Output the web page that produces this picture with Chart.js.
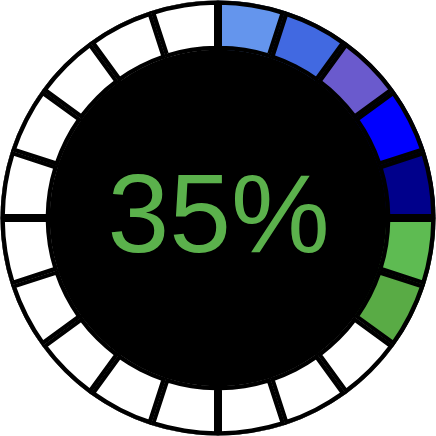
<!DOCTYPE html>
<html>
<head>
<meta charset="utf-8">
<script src="https://cdn.jsdelivr.net/npm/chart.js@4"></script>
<style>
html,body{margin:0;padding:0;background:#fff;}
#wrap{width:436px;height:436px;}
</style>
</head>
<body>
<div id="wrap"><canvas id="c" width="436" height="436"></canvas></div>
<script>
const percentLabel = "35%";
const segmentLabels = ["1","2","3","4","5","6","7","8","9","10","11","12","13","14","15","16","17","18","19","20"];
const segmentValues = [1,1,1,1,1,1,1,1,1,1,1,1,1,1,1,1,1,1,1,1];
const segmentColors = ["#6495ED","#4169E1","#6A5ACD","#0000FF","#00008B","#5EBB52","#59AB45",
  "#FFFFFF","#FFFFFF","#FFFFFF","#FFFFFF","#FFFFFF","#FFFFFF","#FFFFFF","#FFFFFF","#FFFFFF","#FFFFFF","#FFFFFF","#FFFFFF","#FFFFFF"];

const bgPlugin = {
  id: 'bg',
  beforeDatasetsDraw(chart) {
    const meta = chart.getDatasetMeta(0);
    const arc = meta.data[0];
    const ctx = chart.ctx;
    ctx.save();
    ctx.beginPath();
    ctx.arc(arc.x, arc.y, arc.outerRadius, 0, Math.PI * 2);
    ctx.fillStyle = '#000';
    ctx.fill();
    ctx.restore();
  },
  afterDraw(chart) {
    const meta = chart.getDatasetMeta(0);
    const arc = meta.data[0];
    const ctx = chart.ctx;
    ctx.save();
    ctx.fillStyle = '#5BB14C';
    ctx.font = '111px "Liberation Sans", Arial, sans-serif';
    ctx.textAlign = 'center';
    ctx.textBaseline = 'alphabetic';
    ctx.fillText(percentLabel, arc.x + 0.5, 252);
    ctx.restore();
  }
};

new Chart(document.getElementById('c'), {
  type: 'doughnut',
  data: {
    labels: segmentLabels,
    datasets: [{
      data: segmentValues,
      backgroundColor: segmentColors,
      borderColor: '#000',
      borderWidth: 4,
      borderAlign: 'inner',
      borderRadius: 2
    }]
  },
  options: {
    responsive: false,
    animation: false,
    cutout: 168,
    layout: { padding: 0.5 },
    plugins: { legend: { display: false }, tooltip: { enabled: false } }
  },
  plugins: [bgPlugin]
});
</script>
</body>
</html>
